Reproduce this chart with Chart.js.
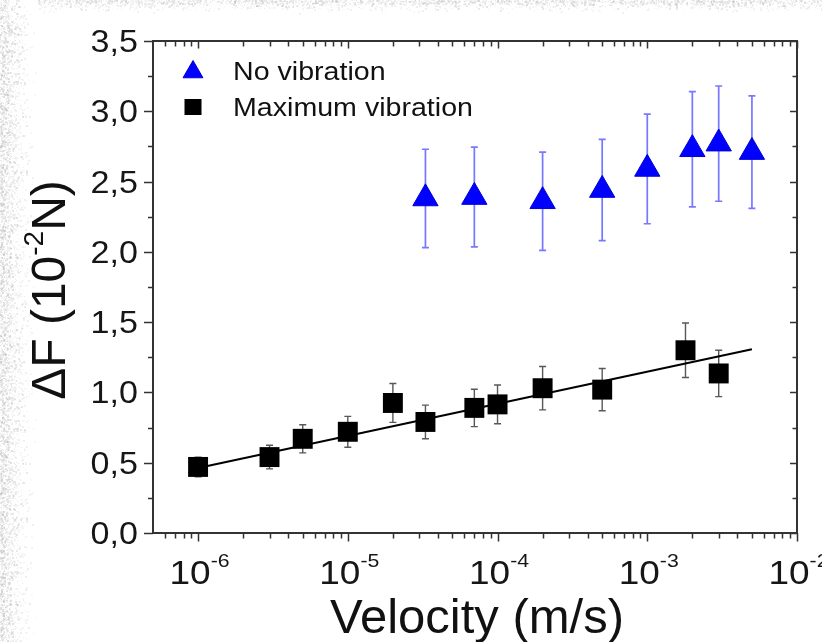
<!DOCTYPE html>
<html>
<head>
<meta charset="utf-8">
<script src="https://cdn.jsdelivr.net/npm/chart.js@4.4.0/dist/chart.umd.min.js"></script>
<style>
  html, body { margin: 0; padding: 0; background: #ffffff; }
  body { width: 822px; height: 642px; overflow: hidden; }
  #wrap { position: relative; width: 822px; height: 642px; }
  #paper, #c { position: absolute; left: 0; top: 0; }
</style>
</head>
<body>
<div id="wrap">
  <canvas id="paper" width="822" height="642"></canvas>
  <canvas id="c" width="822" height="642"></canvas>
</div>
<script>
// Force jump (10^-2 N) against sliding velocity (m/s)
const noVibVelocity = [3.3e-5, 7e-5, 2e-4, 5e-4, 1e-3, 2e-3, 3e-3, 5e-3];
const noVibForce    = [2.38, 2.39, 2.36, 2.44, 2.59, 2.73, 2.77, 2.71];
const noVibError    = [0.35, 0.355, 0.35, 0.36, 0.39, 0.41, 0.41, 0.40];

const maxVibVelocity = [1e-6, 3e-6, 5e-6, 1e-5, 2e-5, 3.3e-5, 7e-5, 1e-4, 2e-4, 5e-4, 1.8e-3, 3e-3];
const maxVibForce    = [0.47, 0.54, 0.67, 0.72, 0.925, 0.79, 0.89, 0.915, 1.03, 1.02, 1.30, 1.135];
const maxVibError    = [0.07, 0.084, 0.10, 0.11, 0.138, 0.12, 0.133, 0.138, 0.154, 0.15, 0.194, 0.165];

// logarithmic fit through the "Maximum vibration" points
const fitVelocity = [1e-6, 5e-3];
const fitForce    = [0.463, 1.307];

const xMajorTicks    = [1e-6, 1e-5, 1e-4, 1e-3, 1e-2];
const xTickExponents = ['-6', '-5', '-4', '-3', '-2'];
const yTicks         = [0, 0.5, 1, 1.5, 2, 2.5, 3, 3.5];
const yTickLabels    = ['0,0', '0,5', '1,0', '1,5', '2,0', '2,5', '3,0', '3,5'];

const X_MIN = 5e-7, X_MAX = 1e-2, Y_MIN = 0, Y_MAX = 3.5;

const toPoints = (xs, ys) => xs.map((x, i) => ({ x: x, y: ys[i] }));

const FONT = '"Liberation Sans", Arial, sans-serif';
const INK = '#161616';
const AXIS = '#333333';

// soft grainy paper edge along the left and top borders
(function paperEdge() {
  const cv = document.getElementById('paper');
  const g = cv.getContext('2d');
  let seed = 1234567;
  const next = () => { seed = (seed * 1103515245 + 12345) & 0x7fffffff; return seed / 0x7fffffff; };
  const speck = (x, y, alpha) => {
    const shade = 165 + Math.floor(next() * 60);
    const s = next() < 0.4 ? 2 : 1;
    g.fillStyle = 'rgba(' + shade + ',' + shade + ',' + shade + ',' + alpha.toFixed(2) + ')';
    g.fillRect(x, y, s, s);
  };
  for (let y = 0; y < 642; y++) {
    for (let x = 0; x < 38; x++) {
      const fall = 1 - x / 38;
      const density = 0.55 * fall * fall;
      if (next() < density) speck(x, y, 0.15 + 0.3 * next() * fall);
    }
  }
  for (let y = 0; y < 14; y++) {
    for (let x = 38; x < 822; x++) {
      const fall = 1 - y / 14;
      const density = 0.5 * fall * fall;
      if (next() < density) speck(x, y, 0.15 + 0.3 * next() * fall);
    }
  }
})();

function stretchedText(ctx, s, x, y, size, sx, align) {
  ctx.save();
  ctx.font = size + 'px ' + FONT;
  ctx.textAlign = align || 'left';
  ctx.textBaseline = 'alphabetic';
  ctx.translate(x, y);
  ctx.scale(sx, 1);
  ctx.fillText(s, 0, 0);
  ctx.restore();
}

function drawErrorBars(ctx, xs, ys, vel, val, err, color, width, cap) {
  ctx.save();
  ctx.strokeStyle = color;
  ctx.lineWidth = width;
  vel.forEach((v, i) => {
    const px = xs.getPixelForValue(v);
    const top = ys.getPixelForValue(val[i] + err[i]);
    const bot = ys.getPixelForValue(val[i] - err[i]);
    ctx.beginPath();
    ctx.moveTo(px, top); ctx.lineTo(px, bot);
    ctx.moveTo(px - cap, top); ctx.lineTo(px + cap, top);
    ctx.moveTo(px - cap, bot); ctx.lineTo(px + cap, bot);
    ctx.stroke();
  });
  ctx.restore();
}

const axesAndDecor = {
  id: 'axesAndDecor',
  beforeDatasetsDraw(chart) {
    const ctx = chart.ctx;
    const xs = chart.scales.x, ys = chart.scales.y;
    drawErrorBars(ctx, xs, ys, noVibVelocity, noVibForce, noVibError, 'rgba(95,95,255,0.85)', 1.7, 3.5);
    drawErrorBars(ctx, xs, ys, maxVibVelocity, maxVibForce, maxVibError, 'rgba(70,70,70,0.9)', 1.4, 3.5);
  },
  afterDatasetsDraw(chart) {
    const ctx = chart.ctx;
    const a = chart.chartArea;
    const xs = chart.scales.x, ys = chart.scales.y;

    // frame
    ctx.save();
    ctx.strokeStyle = AXIS;
    ctx.lineWidth = 2;
    ctx.strokeRect(a.left, a.top, a.right - a.left, a.bottom - a.top);

    // x ticks: majors at decades, minors at 2..9 within each decade
    ctx.lineWidth = 1.5;
    ctx.beginPath();
    const xMinor = [];
    for (let d = -7; d <= -3; d++) {
      for (let k = 2; k <= 9; k++) {
        const v = k * Math.pow(10, d);
        if (v > X_MIN * 1.01 && v < X_MAX) xMinor.push(v);
      }
    }
    xMinor.forEach(v => {
      const px = Math.round(xs.getPixelForValue(v)) + 0.5;
      ctx.moveTo(px, a.bottom); ctx.lineTo(px, a.bottom + 5.5);
      ctx.moveTo(px, a.top); ctx.lineTo(px, a.top + 5.5);
    });
    xMajorTicks.forEach(v => {
      const px = Math.round(xs.getPixelForValue(v)) + 0.5;
      ctx.moveTo(px, a.bottom); ctx.lineTo(px, a.bottom + 8.5);
      ctx.moveTo(px, a.top); ctx.lineTo(px, a.top + 7.5);
    });
    // y ticks: majors every 0,5, minors halfway
    yTicks.forEach((v, i) => {
      const py = Math.round(ys.getPixelForValue(v)) + 0.5;
      ctx.moveTo(a.left, py); ctx.lineTo(a.left - 9, py);
      ctx.moveTo(a.right, py); ctx.lineTo(a.right - 7, py);
      if (i < yTicks.length - 1) {
        const pm = Math.round(ys.getPixelForValue(v + 0.25)) + 0.5;
        ctx.moveTo(a.left, pm); ctx.lineTo(a.left - 5, pm);
        ctx.moveTo(a.right, pm); ctx.lineTo(a.right - 4.5, pm);
      }
    });
    ctx.stroke();
    ctx.restore();

    ctx.save();
    ctx.fillStyle = INK;

    // y tick labels
    yTicks.forEach((v, i) => {
      const py = ys.getPixelForValue(v);
      stretchedText(ctx, yTickLabels[i], a.left - 15, py + 11, 31, 1.1, 'right');
    });

    // x tick labels: 10 with raised exponent
    const sx = 1.12;
    xMajorTicks.forEach((v, i) => {
      const px = xs.getPixelForValue(v);
      ctx.font = '33px ' + FONT;
      const w1 = ctx.measureText('10').width * sx;
      ctx.font = '19px ' + FONT;
      const w2 = ctx.measureText(xTickExponents[i]).width * sx;
      const start = px + 1.5 - (w1 + w2) / 2;
      stretchedText(ctx, '10', start, a.bottom + 51, 33, sx, 'left');
      stretchedText(ctx, xTickExponents[i], start + w1, a.bottom + 34, 19, sx, 'left');
    });

    // x axis title
    ctx.font = '49px ' + FONT;
    ctx.textAlign = 'center';
    ctx.textBaseline = 'alphabetic';
    ctx.fillStyle = '#111';
    ctx.fillText('Velocity (m/s)', (a.left + a.right) / 2 + 2, 633);

    // y axis title, rotated, with superscript exponent
    ctx.save();
    ctx.translate(65, 290);
    ctx.rotate(-Math.PI / 2);
    const parts = [
      { s: '\u0394F (10', size: 48, rise: 0 },
      { s: '-2', size: 28, rise: 22 },
      { s: 'N)', size: 48, rise: 0 }
    ];
    let total = 0;
    parts.forEach(p => { ctx.font = p.size + 'px ' + FONT; p.w = ctx.measureText(p.s).width; total += p.w; });
    let cx = -total / 2;
    ctx.textAlign = 'left';
    parts.forEach(p => {
      ctx.font = p.size + 'px ' + FONT;
      ctx.fillText(p.s, cx, -p.rise);
      cx += p.w;
    });
    ctx.restore();

    // legend
    const dsTri = chart.data.datasets[1];
    const dsSq = chart.data.datasets[0];
    const lx = 193;
    ctx.fillStyle = dsTri.pointBackgroundColor;
    ctx.strokeStyle = dsTri.pointBorderColor;
    ctx.lineWidth = 1;
    const r = 11.5, ty = 72;
    ctx.beginPath();
    ctx.moveTo(lx, ty - r);
    ctx.lineTo(lx + r * Math.sin(2 * Math.PI / 3), ty + r / 2);
    ctx.lineTo(lx - r * Math.sin(2 * Math.PI / 3), ty + r / 2);
    ctx.closePath();
    ctx.fill(); ctx.stroke();
    ctx.fillStyle = dsSq.pointBackgroundColor;
    ctx.fillRect(lx - 8.5, 107 - 8, 17, 16);

    ctx.fillStyle = '#111';
    stretchedText(ctx, dsTri.label, 233, 80, 26, 1.1, 'left');
    stretchedText(ctx, dsSq.label, 233, 115.5, 26, 1.1, 'left');
    ctx.restore();
  }
};

new Chart(document.getElementById('c'), {
  type: 'scatter',
  data: {
    datasets: [
      {
        label: 'Maximum vibration',
        data: toPoints(maxVibVelocity, maxVibForce),
        pointStyle: 'rect',
        pointRadius: 14.1,
        pointBackgroundColor: '#000000',
        pointBorderColor: '#000000',
        pointBorderWidth: 0,
        order: 1
      },
      {
        label: 'No vibration',
        data: toPoints(noVibVelocity, noVibForce),
        pointStyle: 'triangle',
        pointRadius: 14.6,
        pointBackgroundColor: '#0000ff',
        pointBorderColor: '#0000d8',
        pointBorderWidth: 1,
        order: 2
      },
      {
        label: 'Linear fit',
        data: toPoints(fitVelocity, fitForce),
        showLine: true,
        borderColor: '#000000',
        borderWidth: 2,
        pointRadius: 0,
        order: 3
      }
    ]
  },
  options: {
    responsive: false,
    animation: false,
    devicePixelRatio: 1,
    events: [],
    layout: { padding: { left: 153, right: 25, top: 41, bottom: 109 } },
    plugins: { legend: { display: false }, tooltip: { enabled: false } },
    scales: {
      x: { type: 'logarithmic', min: X_MIN, max: X_MAX, display: false },
      y: { type: 'linear', min: Y_MIN, max: Y_MAX, display: false }
    }
  },
  plugins: [axesAndDecor]
});
</script>
</body>
</html>
